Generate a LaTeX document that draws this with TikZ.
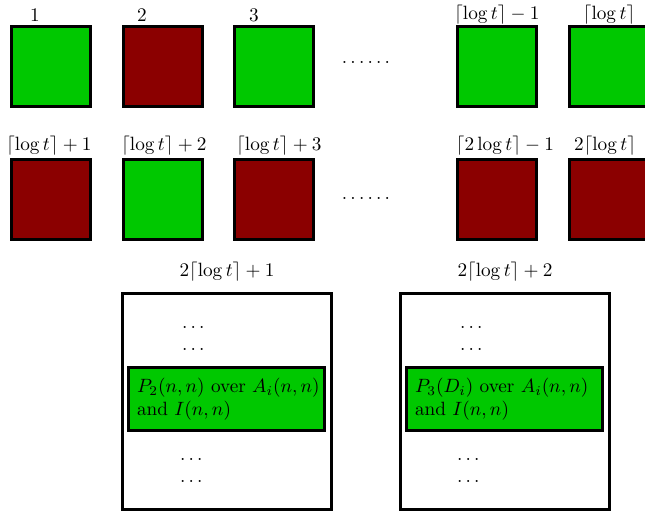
\documentclass[tikz,border=0pt]{standalone}
\usepackage{amsmath}
\definecolor{bgreen}{RGB}{0,200,0}
\definecolor{dred}{RGB}{139,0,0}
\begin{document}
\begin{tikzpicture}[x=0.52pt,y=-0.52pt,
  sq/.style={draw=black,line width=1.5pt,minimum width=41pt,minimum height=42pt,inner sep=0pt},
  gsq/.style={sq,fill=bgreen},
  rsq/.style={sq,fill=dred},
  lbl/.style={inner sep=0pt},
  big/.style={draw=black,line width=1.5pt,minimum width=108.7pt,minimum height=112.3pt,inner sep=0pt},
  inner/.style={draw=black,fill=bgreen,line width=1.5pt,text width=93pt,inner xsep=4.5pt,inner ysep=0pt,minimum height=32.8pt,align=left}]
\useasboundingbox (0,0) rectangle (645,516);
% row 1
\node[gsq] (a1) at (51,66.5) {};
\node[rsq] (a2) at (163,66.5) {};
\node[gsq] (a3) at (274,66.5) {};
\node[gsq] (a4) at (497,66.5) {};
\node[gsq] (a5) at (609,66.5) {};
\node[lbl] (la1) at (35,15) {$1$};
\node[lbl] (la2) at (142,15) {$2$};
\node[lbl] (la3) at (254,15) {$3$};
\node[lbl] (la4) at (497,15) {$\lceil\log t\rceil-1$};
\node[lbl] (la5) at (609,15) {$\lceil\log t\rceil$};
\node[lbl] (da) at (366,62) {$\ldots\ldots$};
% row 2
\node[rsq] (b1) at (51,199.5) {};
\node[gsq] (b2) at (163,199.5) {};
\node[rsq] (b3) at (274,199.5) {};
\node[rsq] (b4) at (497,199.5) {};
\node[rsq] (b5) at (609,199.5) {};
\node[lbl] (lb1) at (49,146) {$\lceil\log t\rceil+1$};
\node[lbl] (lb2) at (164,146) {$\lceil\log t\rceil+2$};
\node[lbl] (lb3) at (279,146) {$\lceil\log t\rceil+3$};
\node[lbl] (lb4) at (505,146) {$\lceil2\log t\rceil-1$};
\node[lbl] (lb5) at (605,146) {$2\lceil\log t\rceil$};
\node[lbl] (db) at (366,198) {$\ldots\ldots$};
% bottom
\node[lbl] (lc1) at (227,272) {$2\lceil\log t\rceil+1$};
\node[lbl] (lc2) at (505,272) {$2\lceil\log t\rceil+2$};
\node[big] (c1) at (227,401.5) {};
\node[big] (c2) at (505,401.5) {};
\node[inner] (g1) at (226.5,399) {\mbox{$P_2(n,n)$ over $A_i(n,n)$}\\\mbox{and $I(n,n)$}};
\node[inner] (g2) at (504.5,399) {\mbox{$P_3(D_i)$ over $A_i(n,n)$}\\\mbox{and $I(n,n)$}};
\node[lbl] (d11) at (195,327) {$\dots$};
\node[lbl] (d12) at (195,349) {$\dots$};
\node[lbl] (d13) at (193,459) {$\dots$};
\node[lbl] (d14) at (193,481) {$\dots$};
\node[lbl] (d21) at (473,327) {$\dots$};
\node[lbl] (d22) at (473,349) {$\dots$};
\node[lbl] (d23) at (470,459) {$\dots$};
\node[lbl] (d24) at (470,481) {$\dots$};
\end{tikzpicture}
\end{document}
